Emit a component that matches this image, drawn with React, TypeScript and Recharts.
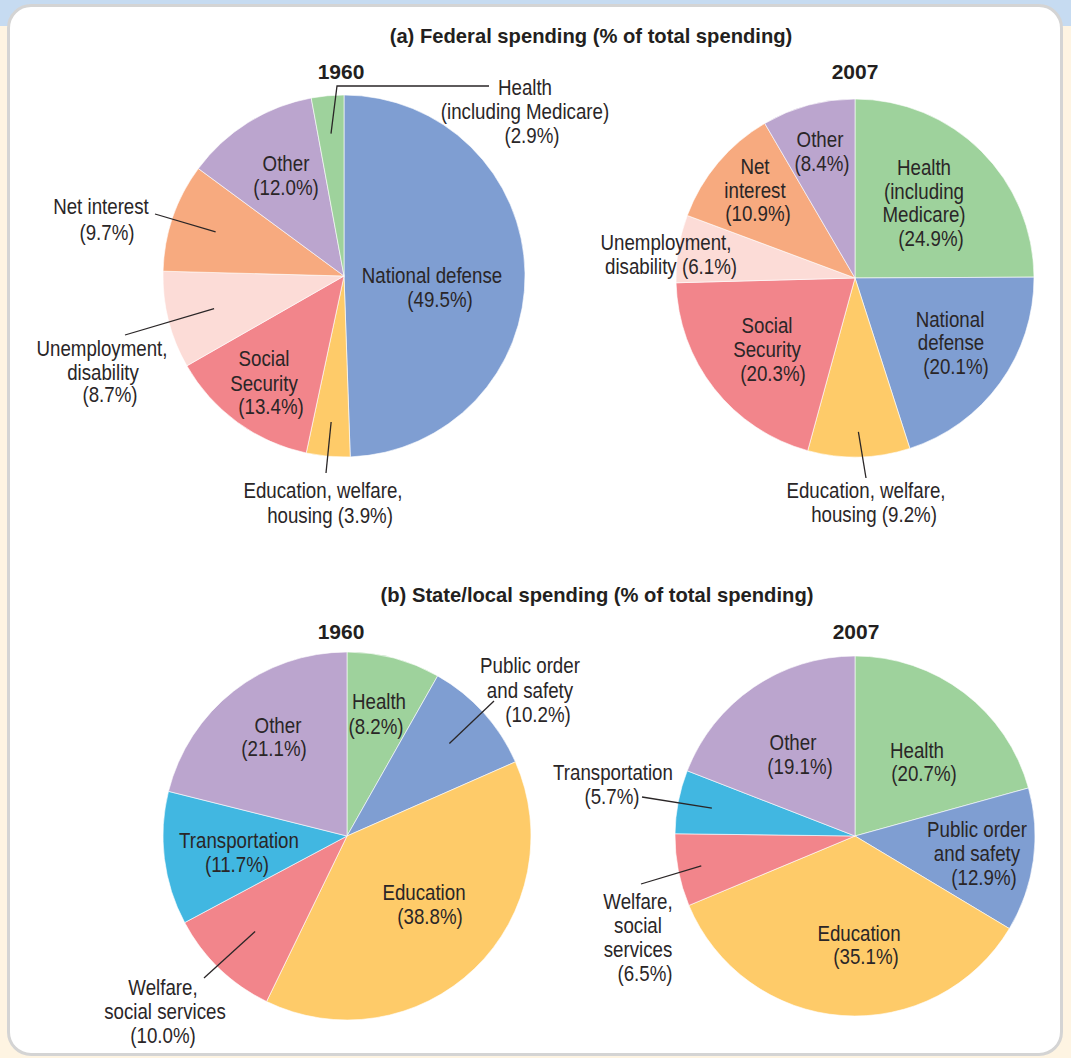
import React from 'react';
import { PieChart, Pie, Cell } from 'recharts';

// ---------- DATA ----------
const federal1960Categories = [
  'National defense',
  'Education, welfare, housing',
  'Social Security',
  'Unemployment, disability',
  'Net interest',
  'Other',
  'Health (including Medicare)',
];
const federal1960Values = [49.5, 3.9, 13.4, 8.7, 9.7, 12.0, 2.9];

const federal2007Categories = [
  'Health (including Medicare)',
  'National defense',
  'Education, welfare, housing',
  'Social Security',
  'Unemployment, disability',
  'Net interest',
  'Other',
];
const federal2007Values = [24.9, 20.1, 9.2, 20.3, 6.1, 10.9, 8.4];

const state1960Categories = [
  'Health',
  'Public order and safety',
  'Education',
  'Welfare, social services',
  'Transportation',
  'Other',
];
const state1960Values = [8.2, 10.2, 38.8, 10.0, 11.7, 21.1];

const state2007Categories = [
  'Health',
  'Public order and safety',
  'Education',
  'Welfare, social services',
  'Transportation',
  'Other',
];
const state2007Values = [20.7, 12.9, 35.1, 6.5, 5.7, 19.1];

const titleFederal = '(a) Federal spending (% of total spending)';
const titleState = '(b) State/local spending (% of total spending)';
const yearLabels = ['1960', '2007'];

// ---------- STYLE ----------
const CATEGORY_COLORS: Record<string, string> = {
  'National defense': '#7f9ed2',
  'Public order and safety': '#7f9ed2',
  'Education, welfare, housing': '#fecb69',
  Education: '#fecb69',
  'Social Security': '#f2858b',
  'Welfare, social services': '#f2858b',
  'Unemployment, disability': '#fcdcd7',
  'Net interest': '#f7aa7f',
  Other: '#bba5ce',
  'Health (including Medicare)': '#9ed29c',
  Health: '#9ed29c',
  Transportation: '#41b7e1',
};

const TEXT_COLOR = '#2a2627';
const FONT = "'Liberation Sans', Arial, Helvetica, sans-serif";
const LABEL_SIZE = 21.5;
const LABEL_SCALE_X = 0.87;
const LABEL_BASE = 7.8;

type Line = [string, number, number];
type LabelSpec = { lines: Line[]; leader?: { r: number; path: [number, number][] } };

// label layout (offsets from each pie's centre)
const LAYOUT_FED_1960: Record<string, LabelSpec> = {
  'National defense': { lines: [['National defense', 88, -1], ['({v})', 96, 23]] },
  'Education, welfare, housing': {
    lines: [['Education, welfare,', -21, 214], ['housing ({v})', -14, 239]],
    leader: { r: 0.81, path: [[-18, 197]] },
  },
  'Social Security': { lines: [['Social', -80, 82], ['Security', -80, 107], ['({v})', -73, 130]] },
  'Unemployment, disability': {
    lines: [['Unemployment,', -242, 72], ['disability', -241, 96], ['({v})', -234, 118]],
    leader: { r: 0.74, path: [[-219, 59]] },
  },
  'Net interest': {
    lines: [['Net interest', -243, -70], ['({v})', -237, -44]],
    leader: { r: 0.75, path: [[-189, -62]] },
  },
  Other: { lines: [['Other', -58, -113], ['({v})', -58, -89]] },
  'Health (including Medicare)': {
    lines: [['Health', 181, -189], ['(including Medicare)', 181, -165], ['({v})', 188, -141]],
    leader: { r: 0.79, path: [[-7, -190], [145, -190]] },
  },
};

const LAYOUT_FED_2007: Record<string, LabelSpec> = {
  'Health (including Medicare)': {
    lines: [['Health', 69, -111], ['(including', 69, -87], ['Medicare)', 69, -64], ['({v})', 76, -40]],
  },
  'National defense': { lines: [['National', 95, 41], ['defense', 96, 64], ['({v})', 101, 88]] },
  'Education, welfare, housing': {
    lines: [['Education, welfare,', 11, 212], ['housing ({v})', 19, 236]],
    leader: { r: 0.86, path: [[11, 200]] },
  },
  'Social Security': { lines: [['Social', -88, 47], ['Security', -88, 71], ['({v})', -82, 95]] },
  'Unemployment, disability': { lines: [['Unemployment,', -189, -36], ['disability ({v})', -184, -12]] },
  'Net interest': { lines: [['Net', -100, -112], ['interest', -100, -88], ['({v})', -97, -65]] },
  Other: { lines: [['Other', -35, -139], ['({v})', -33, -115]] },
};

const LAYOUT_STATE_1960: Record<string, LabelSpec> = {
  Health: { lines: [['Health', 32, -135], ['({v})', 29, -110]] },
  'Public order and safety': {
    lines: [['Public order', 183, -171], ['and safety', 183, -146], ['({v})', 191, -122]],
    leader: { r: 0.75, path: [[147, -135]] },
  },
  Education: { lines: [['Education', 77, 56], ['({v})', 83, 80]] },
  'Welfare, social services': {
    lines: [['Welfare,', -184, 151], ['social services', -182, 175], ['({v})', -184, 199]],
    leader: { r: 0.72, path: [[-143, 142]] },
  },
  Transportation: { lines: [['Transportation', -108, 4], ['({v})', -110, 28]] },
  Other: { lines: [['Other', -69, -111], ['({v})', -73, -88]] },
};

const LAYOUT_STATE_2007: Record<string, LabelSpec> = {
  Health: { lines: [['Health', 62, -86], ['({v})', 69, -63]] },
  'Public order and safety': {
    lines: [['Public order', 122, -7], ['and safety', 122, 17], ['({v})', 129, 41]],
  },
  Education: { lines: [['Education', 4, 97], ['({v})', 11, 120]] },
  'Welfare, social services': {
    lines: [['Welfare,', -217, 65], ['social', -217, 89], ['services', -217, 113], ['({v})', -210, 137]],
    leader: { r: 0.87, path: [[-214, 48]] },
  },
  Transportation: {
    lines: [['Transportation', -242, -64], ['({v})', -243, -40]],
    leader: { r: 0.81, path: [[-213, -39]] },
  },
  Other: { lines: [['Other', -62, -94], ['({v})', -55, -70]] },
};

const build = (cats: string[], vals: number[]) => cats.map((name, i) => ({ name, value: vals[i] }));

const RAD = Math.PI / 180;

const makeLabel = (layout: Record<string, LabelSpec>) => (props: any) => {
  const { cx, cy, midAngle, outerRadius, name, value } = props;
  const spec = layout[name];
  if (!spec) return null;
  const vText = `${Number(value).toFixed(1)}%`;
  let leader = null;
  if (spec.leader) {
    const r = outerRadius * spec.leader.r;
    const px = cx + r * Math.cos(midAngle * RAD);
    const py = cy - r * Math.sin(midAngle * RAD);
    const pts = [[px, py], ...spec.leader.path.map(([dx, dy]) => [cx + dx, cy + dy])];
    leader = (
      <polyline
        points={pts.map((p) => p.join(',')).join(' ')}
        fill="none"
        stroke={TEXT_COLOR}
        strokeWidth={1.3}
      />
    );
  }
  return (
    <g>
      {leader}
      {spec.lines.map(([t, dx, dy], i) => (
        <g key={i} transform={`translate(${cx + dx},${cy + dy}) scale(${LABEL_SCALE_X},1)`}>
          <text
            x={0}
            y={LABEL_BASE}
            textAnchor="middle"
            fontFamily={FONT}
            fontSize={LABEL_SIZE}
            fill={TEXT_COLOR}
          >
            {t.replace('{v}', vText)}
          </text>
        </g>
      ))}
    </g>
  );
};

const PIES = [
  { data: build(federal1960Categories, federal1960Values), cx: 344, cy: 276, r: 181, layout: LAYOUT_FED_1960 },
  { data: build(federal2007Categories, federal2007Values), cx: 855, cy: 278, r: 179, layout: LAYOUT_FED_2007 },
  { data: build(state1960Categories, state1960Values), cx: 347, cy: 836, r: 184, layout: LAYOUT_STATE_1960 },
  { data: build(state2007Categories, state2007Values), cx: 855, cy: 836, r: 180, layout: LAYOUT_STATE_2007 },
];

const W = 1071;
const H = 1058;

export default function App() {
  return (
    <div
      style={{
        position: 'absolute',
        left: 0,
        top: 0,
        width: W,
        height: H,
        overflow: 'hidden',
        background: '#fef4e2',
      }}
    >
      <div style={{ position: 'absolute', left: 0, top: 0, width: W, height: 26, background: '#c6dbf1' }} />
      <div
        style={{
          position: 'absolute',
          left: 7,
          top: 4,
          width: 1056,
          height: 1052,
          boxSizing: 'border-box',
          border: '3px solid #d4d4d4',
          borderRadius: 24,
          background: '#ffffff',
        }}
      />
      <div style={{ position: 'absolute', left: 0, top: 0 }}>
        <PieChart width={W} height={H} margin={{ top: 0, right: 0, bottom: 0, left: 0 }}>
          {PIES.map((p, i) => (
            <Pie
              key={i}
              data={p.data}
              dataKey="value"
              nameKey="name"
              cx={p.cx}
              cy={p.cy}
              outerRadius={p.r}
              innerRadius={0}
              startAngle={90}
              endAngle={-270}
              stroke="#ffffff"
              strokeWidth={0.6}
              isAnimationActive={false}
              labelLine={false}
              label={makeLabel(p.layout)}
            >
              {p.data.map((d) => (
                <Cell key={d.name} fill={CATEGORY_COLORS[d.name]} />
              ))}
            </Pie>
          ))}
        </PieChart>
      </div>
      <svg
        width={W}
        height={H}
        style={{ position: 'absolute', left: 0, top: 0, pointerEvents: 'none' }}
      >
        <g fontFamily={FONT} fontWeight="bold" fill="#231f20" textAnchor="middle">
          <text x={591} y={43} fontSize={20.2}>{titleFederal}</text>
          <text x={341} y={79} fontSize={21}>{yearLabels[0]}</text>
          <text x={855} y={79} fontSize={21}>{yearLabels[1]}</text>
          <text x={597} y={602} fontSize={20.2}>{titleState}</text>
          <text x={341} y={639} fontSize={21}>{yearLabels[0]}</text>
          <text x={856} y={639} fontSize={21}>{yearLabels[1]}</text>
        </g>
      </svg>
    </div>
  );
}
